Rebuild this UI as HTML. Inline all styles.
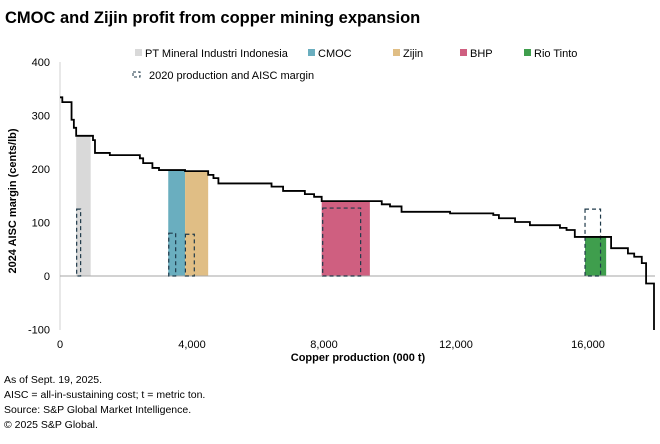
<!DOCTYPE html>
<html><head><meta charset="utf-8">
<style>
body{margin:0;background:#fff;font-family:"Liberation Sans",sans-serif;}
#wrap{position:relative;width:660px;height:444px;overflow:hidden;}
.title{position:absolute;left:5px;top:9px;font-size:16.5px;font-weight:bold;color:#000;}
.foot{position:absolute;left:4px;font-size:10.5px;color:#000;}
</style></head><body>
<div id="wrap">
<div class="title">CMOC and Zijin profit from copper mining expansion</div>
<svg id="chart" width="660" height="444" style="position:absolute;left:0;top:0"></svg>
<div class="foot" style="top:374px">As of Sept. 19, 2025.</div>
<div class="foot" style="top:389px">AISC = all-in-sustaining cost; t = metric ton.</div>
<div class="foot" style="top:404px">Source: S&amp;P Global Market Intelligence.</div>
<div class="foot" style="top:419px">© 2025 S&amp;P Global.</div>
</div>
<script>
const curveX = [0,70,350,420,490,930,1000,1060,1510,2420,2520,2800,3000,3270,3790,4490,4650,4800,4940,6410,6760,7420,7700,7930,9390,9750,10000,10350,11820,13130,13300,13790,14240,15150,15350,15600,16550,16700,17210,17400,17630,17760,17930,18000];
const curveY = [334,325,292,277,262,262,254,230,226,220,211,202,198,198,196,189,183,173,173,167,159,153,148,140,140,134,130,120,117,114,108,101,95,90,86,73,73,52,42,36,24,-14,-14,-101];
const barNames = ["PT Mineral Industri Indonesia","CMOC","Zijin","BHP","Rio Tinto"];
const barStart = [490,3280,3790,7930,15910];
const barEnd = [930,3790,4490,9390,16550];
const barValue = [262,198,196,140,72];
const barColors = ["#d9d9d9","#6aaebf","#e0be85","#cf5f80","#3f9e4d"];
const prevStart = [505,3295,3800,7960,15910];
const prevEnd = [625,3505,4070,9110,16380];
const prevValue = [125,80,78,127,125];
const yTicks = [400,300,200,100,0,-100];
const xTicks = [0,4000,8000,12000,16000];
const xTickLabels = ["0","4,000","8,000","12,000","16,000"];

const NS="http://www.w3.org/2000/svg";
const svg=document.getElementById('chart');
const X=v=>60+v*0.033;
const Y=v=>276-v*0.535;
function mk(t,a,p){const e=document.createElementNS(NS,t);for(const k in a)e.setAttribute(k,a[k]);(p||svg).appendChild(e);return e;}

const ax=mk('line',{x1:60,x2:60,y1:62,y2:330,stroke:'#d0d0d0','stroke-width':1});


yTicks.forEach(t=>{
  const tx=mk('text',{x:50,y:Y(t)+4,'text-anchor':'end','font-size':11,fill:'#000'});
  tx.textContent=t;
  
  
});
xTicks.forEach((t,i)=>{
  const tx=mk('text',{x:X(t),y:348,'text-anchor':'middle','font-size':11,fill:'#000'});
  tx.textContent=xTickLabels[i];
  
  
});
barStart.forEach((s,i)=>{
  const r=mk('rect',{x:X(s),y:Y(barValue[i]),width:X(barEnd[i])-X(s),height:Y(0)-Y(barValue[i]),fill:barColors[i]});
  
  
});
const zl=mk('line',{x1:60,x2:655,y1:Y(0),y2:Y(0),stroke:'#a6a6a6','stroke-width':1});


prevStart.forEach((s,i)=>{
  const r=mk('rect',{x:X(s),y:Y(prevValue[i]),width:X(prevEnd[i])-X(s),height:Y(0)-Y(prevValue[i]),fill:'none',stroke:'#1f3a4a','stroke-width':1.2,'stroke-dasharray':'4,3'});
  
  
});
let d='M'+X(curveX[0])+','+Y(curveY[0]);
for(let i=1;i<curveX.length;i++){d+=' L'+X(curveX[i])+','+Y(curveY[i-1])+' L'+X(curveX[i])+','+Y(curveY[i]);}
const cp=mk('path',{d:d,fill:'none',stroke:'#000','stroke-width':1.8});



const yt=mk('text',{x:0,y:0,transform:'translate(16,201) rotate(-90)','text-anchor':'middle','font-size':11,'font-weight':'bold',fill:'#000'});
yt.textContent='2024 AISC margin (cents/lb)';


const xt=mk('text',{x:358,y:361,'text-anchor':'middle','font-size':11,'font-weight':'bold',fill:'#000'});
xt.textContent='Copper production (000 t)';



const legX=[135,308,393,460,524];
barNames.forEach((n,i)=>{
  const g=mk('g',{});
  
  
  mk('rect',{x:legX[i],y:49,width:7,height:7,fill:barColors[i]},g);
  const t=mk('text',{x:legX[i]+10,y:57,'font-size':11,fill:'#000'},g);
  t.textContent=n;
});
const g2=mk('g',{});


mk('rect',{x:133,y:72,width:7,height:5,fill:'none',stroke:'#1f3a4a','stroke-width':1,'stroke-dasharray':'3,2'},g2);
const t2=mk('text',{x:149,y:79,'font-size':11,fill:'#000'},g2);
t2.textContent='2020 production and AISC margin';
</script>
</body></html>
